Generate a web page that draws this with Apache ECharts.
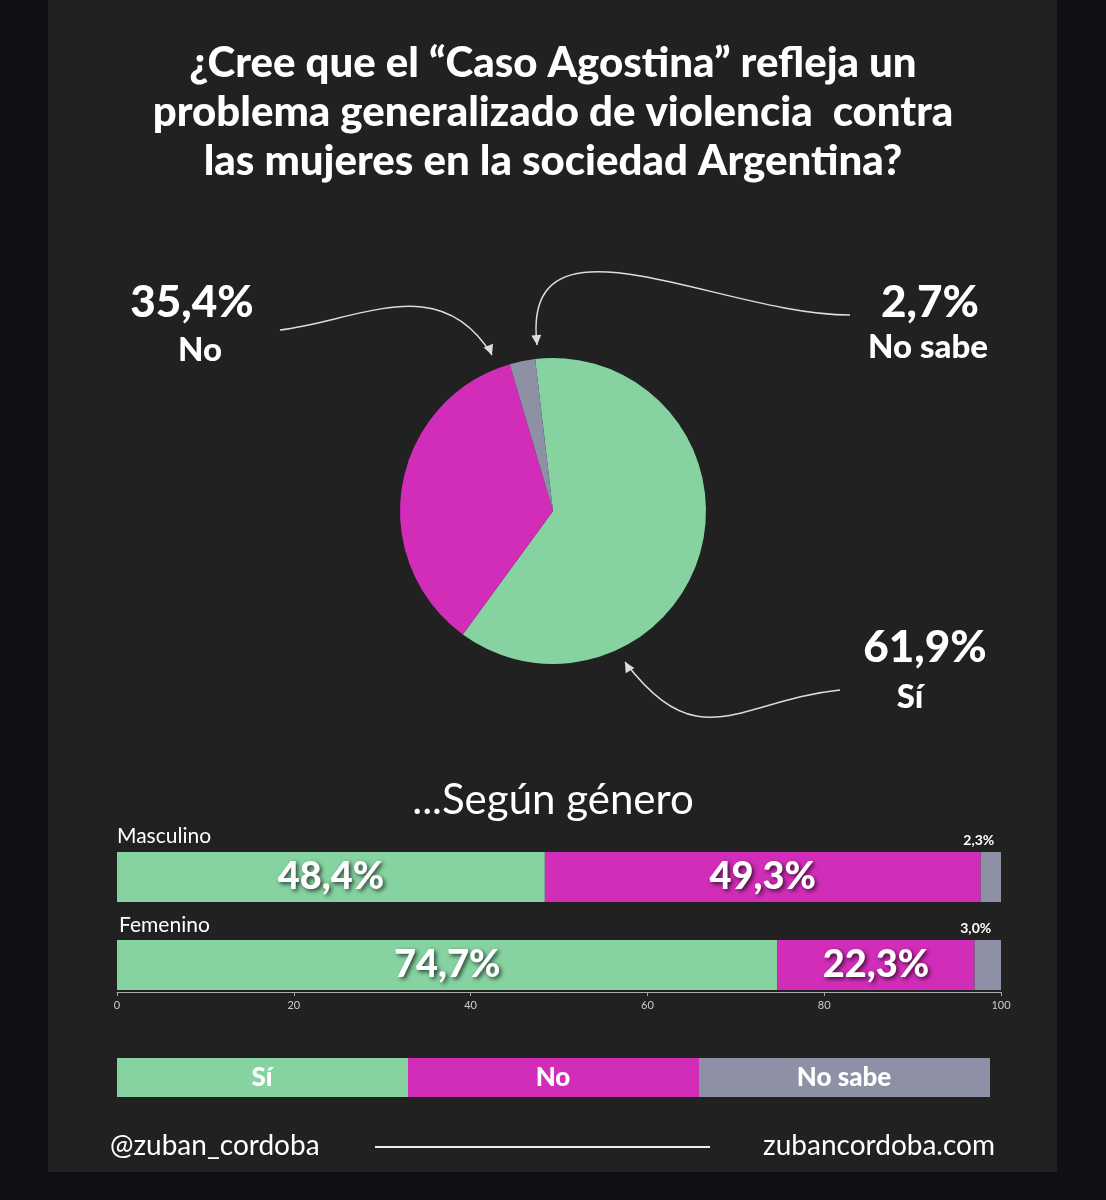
<!DOCTYPE html>
<html>
<head>
<meta charset="utf-8">
<script src="https://cdn.jsdelivr.net/npm/echarts@6/dist/echarts.min.js"></script>
<style>
  body { margin: 0; background: #0f1014; }
</style>
</head>
<body>
<div id="main" style="width: 1106px;height:1200px;"></div>
<script type="text/javascript">
    var myChart = echarts.init(document.getElementById('main'));

    var verde = '#86d3a1', magenta = '#d22db8', gris = '#8e90a6';
    var total = [
        { name: 'Sí', value: 61.9 },
        { name: 'No', value: 35.4 },
        { name: 'No sabe', value: 2.7 }
    ];
    var generos = ['Masculino', 'Femenino'];
    var si = [48.4, 74.7];
    var no = [49.3, 22.3];
    var nosabe = [2.3, 3.0];

    var sombra = { textShadowColor: 'rgba(0,0,0,0.7)', textShadowBlur: 4, textShadowOffsetX: 2, textShadowOffsetY: 2 };
    var fuente = 'Lato';

    function texto(x, y, t, size, align, weight) {
        return { type: 'text', x: x, y: y, z: 10, style: { text: t, fill: '#fff', font: (weight || '900') + ' ' + size + 'px ' + fuente, textAlign: align || 'center', textVerticalAlign: 'middle' } };
    }
    function flecha(pts) {
        return { type: 'bezierCurve', z: 5, shape: { x1: pts[0], y1: pts[1], cpx1: pts[2], cpy1: pts[3], cpx2: pts[4], cpy2: pts[5], x2: pts[6], y2: pts[7] }, style: { stroke: '#ddd', lineWidth: 1.5, fill: null } };
    }
    function punta(x, y, ang) {
        return { type: 'polygon', z: 5, x: x, y: y, rotation: ang, shape: { points: [[0, 0], [-10, -5], [-10, 5]] }, style: { fill: '#ddd' } };
    }

    var option = {
        backgroundColor: '#0f1014',
        graphic: [
            { type: 'rect', z: -10, shape: { x: 48, y: 0, width: 1009, height: 1172 }, style: { fill: '#212121' } },
            texto(553, 63, '¿Cree que el “Caso Agostina” refleja un', 42),
            texto(553, 112, 'problema generalizado de violencia  contra', 42),
            texto(553, 161, 'las mujeres en la sociedad Argentina?', 42),
            texto(192, 303, '35,4%', 44),
            texto(200, 350, 'No', 33),
            texto(930, 303, '2,7%', 44),
            texto(928, 347, 'No sabe', 33),
            texto(925, 648, '61,9%', 44),
            texto(910, 697, 'Sí', 33),
            texto(553, 800, '...Según género', 42, 'center', 'normal'),
            texto(117, 836, 'Masculino', 21, 'left', 'normal'),
            texto(119, 925, 'Femenino', 21, 'left', 'normal'),
            flecha([280, 330, 360, 320, 440, 270, 492, 355]),
            punta(492, 355, -1.2),
            flecha([850, 315, 720, 315, 520, 200, 537, 345]),
            punta(537, 345, -1.5),
            flecha([840, 690, 740, 700, 700, 760, 625, 662]),
            punta(625, 662, 2.1),
            { type: 'rect', shape: { x: 117, y: 1058, width: 291, height: 39 }, style: { fill: verde } },
            { type: 'rect', shape: { x: 408, y: 1058, width: 291, height: 39 }, style: { fill: magenta } },
            { type: 'rect', shape: { x: 699, y: 1058, width: 291, height: 39 }, style: { fill: gris } },
            texto(262, 1078, 'Sí', 26),
            texto(553, 1078, 'No', 26),
            texto(844, 1078, 'No sabe', 26),
            texto(110, 1146, '@zuban_cordoba', 28, 'left', 'normal'),
            { type: 'line', shape: { x1: 375, y1: 1147, x2: 710, y2: 1147 }, style: { stroke: '#eee', lineWidth: 2 } },
            texto(995, 1146, 'zubancordoba.com', 28, 'right', 'normal')
        ],
        grid: { left: 117, right: 105, top: 833, height: 176 },
        xAxis: {
            type: 'value', min: 0, max: 100, interval: 20, offset: -17,
            splitLine: { show: false },
            axisLine: { show: true, lineStyle: { color: '#aaa' } },
            axisTick: { show: true, length: 4, lineStyle: { color: '#aaa' } },
            axisLabel: { color: '#ccc', fontSize: 11, fontFamily: fuente }
        },
        yAxis: {
            type: 'category', data: generos, inverse: true,
            axisLine: { show: false }, axisTick: { show: false }, axisLabel: { show: false }
        },
        series: [
            {
                type: 'pie', center: [553, 511], radius: 153, startAngle: 96.7, clockwise: true,
                label: { show: false }, labelLine: { show: false }, silent: true,
                data: total, color: [verde, magenta, gris]
            },
            {
                name: 'Sí', type: 'bar', stack: 'g', barWidth: 50, data: si, itemStyle: { color: verde },
                label: Object.assign({ show: true, color: '#fff', fontSize: 38, fontWeight: 900, fontFamily: fuente, formatter: function (p) { return p.value.toFixed(1).replace('.', ',') + '%'; } }, sombra)
            },
            {
                name: 'No', type: 'bar', stack: 'g', barWidth: 50, data: no, itemStyle: { color: magenta },
                label: Object.assign({ show: true, color: '#fff', fontSize: 38, fontWeight: 900, fontFamily: fuente, formatter: function (p) { return p.value.toFixed(1).replace('.', ',') + '%'; } }, sombra)
            },
            {
                name: 'No sabe', type: 'bar', stack: 'g', barWidth: 50, data: nosabe, itemStyle: { color: gris },
                label: { show: true, position: 'top', offset: [-12, 0], color: '#fff', fontSize: 14, fontWeight: 'bold', fontFamily: fuente, formatter: function (p) { return p.value.toFixed(1).replace('.', ',') + '%'; } }
            }
        ]
    };
    myChart.setOption(option);
</script>
</body>
</html>
